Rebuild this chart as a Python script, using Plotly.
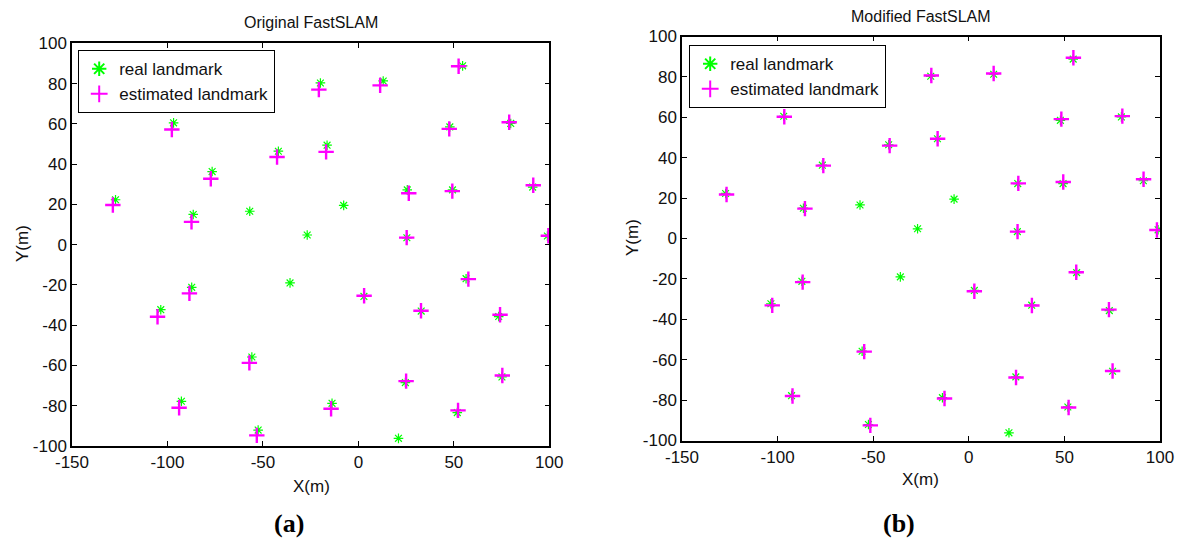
import plotly.graph_objects as go

# Real landmark positions (same in both panels)
real_x = [-127.2, -96.8, -76.6, -86.5, -56.9, -41.9, -26.8, -19.9, 13.0, 54.6, 47.9, 79.8,
          -16.4, -7.7, 25.6, 49.3, 91.3, 25.4, 99.0, -35.8, -87.3, -103.5, -55.8, -92.7,
          -52.5, 2.9, 32.9, 56.4, 73.5, 24.6, 75.2, -13.8, 51.8, 21.0]
real_y = [22.3, 60.5, 36.3, 15.0, 16.6, 46.4, 4.8, 80.3, 81.3, 88.8, 58.5, 60.2,
          49.4, 19.5, 27.2, 27.2, 28.6, 3.4, 4.3, -19.0, -21.2, -32.3, -55.8, -77.8,
          -92.1, -25.7, -33.0, -16.9, -35.7, -68.5, -65.7, -78.8, -83.4, -96.2]

# Estimated landmarks, original FastSLAM (a)
est_a_x = [-128.6, -97.7, -77.3, -87.4, -42.6, -20.7, 11.4, 52.5, 47.6, 79.0, -16.9, 26.4,
           49.2, 91.6, 25.3, 99.5, -88.5, -105.2, -57.1, -93.9, -53.2, 3.0, 32.8, 57.6,
           74.2, 25.0, 75.4, -14.3, 52.2]
est_a_y = [19.7, 57.2, 32.7, 11.3, 43.5, 77.0, 79.1, 88.6, 57.5, 60.8, 46.1, 25.5,
           26.6, 29.5, 3.5, 4.4, -24.2, -35.8, -58.7, -81.0, -94.7, -25.4, -32.8, -17.1,
           -34.8, -67.8, -65.0, -81.5, -82.3]

# Estimated landmarks, modified FastSLAM (b)
est_b_x = [-126.7, -96.5, -76.1, -85.7, -41.4, -19.6, 13.0, 54.7, 48.4, 80.3, -16.3, 25.9,
           49.4, 91.4, 25.5, 98.4, -86.9, -102.8, -54.7, -92.2, -51.5, 2.9, 33.0, 56.2,
           73.3, 24.7, 75.2, -12.7, 52.2]
est_b_y = [21.8, 60.3, 36.1, 14.8, 46.0, 80.7, 81.7, 89.5, 59.1, 60.6, 49.4, 27.3,
           28.0, 29.3, 3.4, 4.2, -21.6, -33.1, -56.0, -78.0, -92.5, -26.1, -33.2, -16.7,
           -35.2, -68.8, -65.6, -79.2, -83.7]

x_ticks = [-150, -100, -50, 0, 50, 100]
y_ticks = [-100, -80, -60, -40, -20, 0, 20, 40, 60, 80, 100]

titles = ["Original FastSLAM", "Modified FastSLAM"]
panel_labels = ["(a)", "(b)"]

W, H = 1180, 540
GREEN = "#00ff00"
MAGENTA = "#ff00ff"
SANS = "Liberation Sans, Arial, sans-serif"

fig = go.Figure()

def add_panel(idx, ex, ey):
    xa = "x" if idx == 0 else "x2"
    ya = "y" if idx == 0 else "y2"
    lg = "legend" if idx == 0 else "legend2"
    fig.add_trace(go.Scatter(x=real_x, y=real_y, mode="markers", name="real landmark",
                             xaxis=xa, yaxis=ya, legend=lg,
                             marker=dict(symbol="asterisk-open", size=8, color=GREEN,
                                         line=dict(color=GREEN, width=1.2))))
    fig.add_trace(go.Scatter(x=ex, y=ey, mode="markers", name="estimated landmark",
                             xaxis=xa, yaxis=ya, legend=lg,
                             marker=dict(symbol="cross-thin-open", size=11, color=MAGENTA,
                                         line=dict(color=MAGENTA, width=2.4))))

add_panel(0, est_a_x, est_a_y)
add_panel(1, est_b_x, est_b_y)

font = dict(family=SANS, size=17, color="#111111")

def ax_common():
    return dict(showgrid=False, zeroline=False, showline=True, linecolor="black", linewidth=1.5,
                mirror="ticks", ticks="inside", ticklen=5, tickcolor="black", tickwidth=1,
                tickfont=font, automargin=False)

# pixel boxes of the two plotting areas
boxes = [(72, 549.3, 43.3, 446), (682, 1160, 36.5, 440.5)]

layout = dict(template="none", width=W, height=H, margin=dict(l=0, r=0, t=0, b=0),
              paper_bgcolor="white", plot_bgcolor="white", showlegend=True)
for i, (x0, x1, y0, y1) in enumerate(boxes):
    sx = "" if i == 0 else "2"
    xd = dict(ax_common(), domain=[x0 / W, x1 / W], range=[-150, 100],
              tickvals=x_ticks, ticktext=[str(v) for v in x_ticks],
              anchor="y" + sx)
    yd = dict(ax_common(), domain=[1 - y1 / H, 1 - y0 / H], range=[-100, 100],
              tickvals=y_ticks, ticktext=[str(v) for v in y_ticks],
              anchor="x" + sx)
    layout["xaxis" + sx] = xd
    layout["yaxis" + sx] = yd

leg_common = dict(bgcolor="white", bordercolor="black", borderwidth=1.2,
                  font=dict(family=SANS, size=17, color="#111111"),
                  xanchor="left", yanchor="top", itemsizing="constant")
layout["legend"] = dict(leg_common, x=78 / W, y=1 - 50 / H)
layout["legend2"] = dict(leg_common, x=689 / W, y=1 - 45 / H)

fig.update_layout(**layout)

ann = []
title_pos = [(311, 22), (921, 16)]
xlab_pos = [(311, 486), (920, 479)]
ylab_pos = [(22, 244), (632, 238)]
plab_pos = [(289, 523), (899, 523)]
for i in range(2):
    common = dict(xref="paper", yref="paper", showarrow=False, xanchor="center", yanchor="middle")
    ann.append(dict(common, text=titles[i], x=title_pos[i][0] / W, y=1 - title_pos[i][1] / H,
                    font=dict(family=SANS, size=16, color="#111111")))
    ann.append(dict(common, text="X(m)", x=xlab_pos[i][0] / W, y=1 - xlab_pos[i][1] / H, font=font))
    ann.append(dict(common, text="Y(m)", x=ylab_pos[i][0] / W, y=1 - ylab_pos[i][1] / H,
                    textangle=-90, font=font))
    ann.append(dict(common, text="<b>" + panel_labels[i] + "</b>", x=plab_pos[i][0] / W,
                    y=1 - plab_pos[i][1] / H,
                    font=dict(family="Liberation Serif, Times New Roman, serif", size=26, color="black")))
fig.update_layout(annotations=ann)

fig.write_html("out.html", config={"displayModeBar": False},
               post_script="document.body.style.margin='0px';")
